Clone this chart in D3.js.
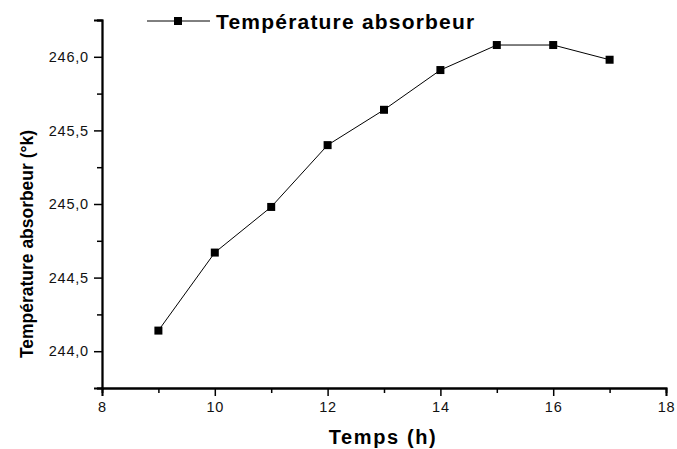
<!DOCTYPE html>
<html><head><meta charset="utf-8">
<script src="https://cdn.jsdelivr.net/npm/d3@7"></script>
<style>body{margin:0;background:#fff;} svg{display:block;font-family:"Liberation Sans",Arial,sans-serif;}</style>
</head><body>
<script>
const hours = [9, 10, 11, 12, 13, 14, 15, 16, 17];
const temperature = [244.14, 244.67, 244.98, 245.40, 245.64, 245.91, 246.08, 246.08, 245.98];
const xTicks = [8, 10, 12, 14, 16, 18];
const yTicks = [244.0, 244.5, 245.0, 245.5, 246.0];
const seriesName = "Température absorbeur";
const xTitle = "Temps (h)";
const yTitle = "Température absorbeur (°k)";

const W = 677, H = 449;
const svg = d3.select("body").append("svg").attr("width", W).attr("height", H);
const x = d3.scaleLinear().domain([8, 18]).range([102, 666]);
const y = d3.scaleLinear().domain([243.75, 246.25]).range([388, 20]);
const fmt = d => d.toFixed(1).replace(".", ",");

// x axis
const gx = svg.append("g").attr("transform", "translate(0,388)");
gx.call(d3.axisBottom(x).tickValues(xTicks).tickSize(8).tickPadding(6).tickFormat(d3.format("d")));
gx.append("g").call(d3.axisBottom(x).tickValues(d3.range(9, 18, 2)).tickSize(5).tickFormat(""));
// y axis
const gy = svg.append("g").attr("transform", "translate(102,0)");
gy.call(d3.axisLeft(y).tickValues(yTicks).tickSize(8).tickPadding(5).tickFormat(fmt));
gy.append("g").call(d3.axisLeft(y).tickValues([243.75, 244.25, 244.75, 245.25, 245.75, 246.25]).tickSize(5).tickFormat(""));

svg.selectAll(".domain").attr("stroke", "#000").attr("stroke-width", 1.8);
svg.selectAll(".tick line").attr("stroke", "#000").attr("stroke-width", 1.5);
svg.selectAll(".tick text").attr("font-size", 14.5).attr("fill", "#111").attr("letter-spacing", "0.8px")
  .attr("font-family", '"Liberation Sans",Arial,sans-serif');

// line
svg.append("path")
  .datum(hours.map((h, i) => [h, temperature[i]]))
  .attr("fill", "none").attr("stroke", "#000").attr("stroke-width", 1)
  .attr("d", d3.line().x(d => x(d[0])).y(d => y(d[1])));
svg.selectAll("rect.pt").data(hours).enter().append("rect").attr("class", "pt")
  .attr("x", (d) => x(d) - 4).attr("y", (d, i) => y(temperature[i]) - 4)
  .attr("width", 8).attr("height", 8).attr("fill", "#000");

// legend
svg.append("line").attr("x1", 147).attr("x2", 210).attr("y1", 21).attr("y2", 21).attr("stroke", "#000").attr("stroke-width", 1);
svg.append("rect").attr("x", 174).attr("y", 17).attr("width", 8).attr("height", 8).attr("fill", "#000");
svg.append("text").attr("x", 216).attr("y", 29).attr("font-size", 21).attr("font-weight", "bold")
  .attr("letter-spacing", "1.2px").text(seriesName);

// titles
svg.append("text").attr("x", 383).attr("y", 444).attr("text-anchor", "middle")
  .attr("font-size", 20).attr("font-weight", "bold").attr("letter-spacing", "1.6px").text(xTitle);
svg.append("text").attr("transform", "translate(33,244) rotate(-90)").attr("text-anchor", "middle")
  .attr("font-size", 19).attr("font-weight", "bold")
  .attr("textLength", 228).attr("lengthAdjust", "spacingAndGlyphs").text(yTitle);
</script>
</body></html>
